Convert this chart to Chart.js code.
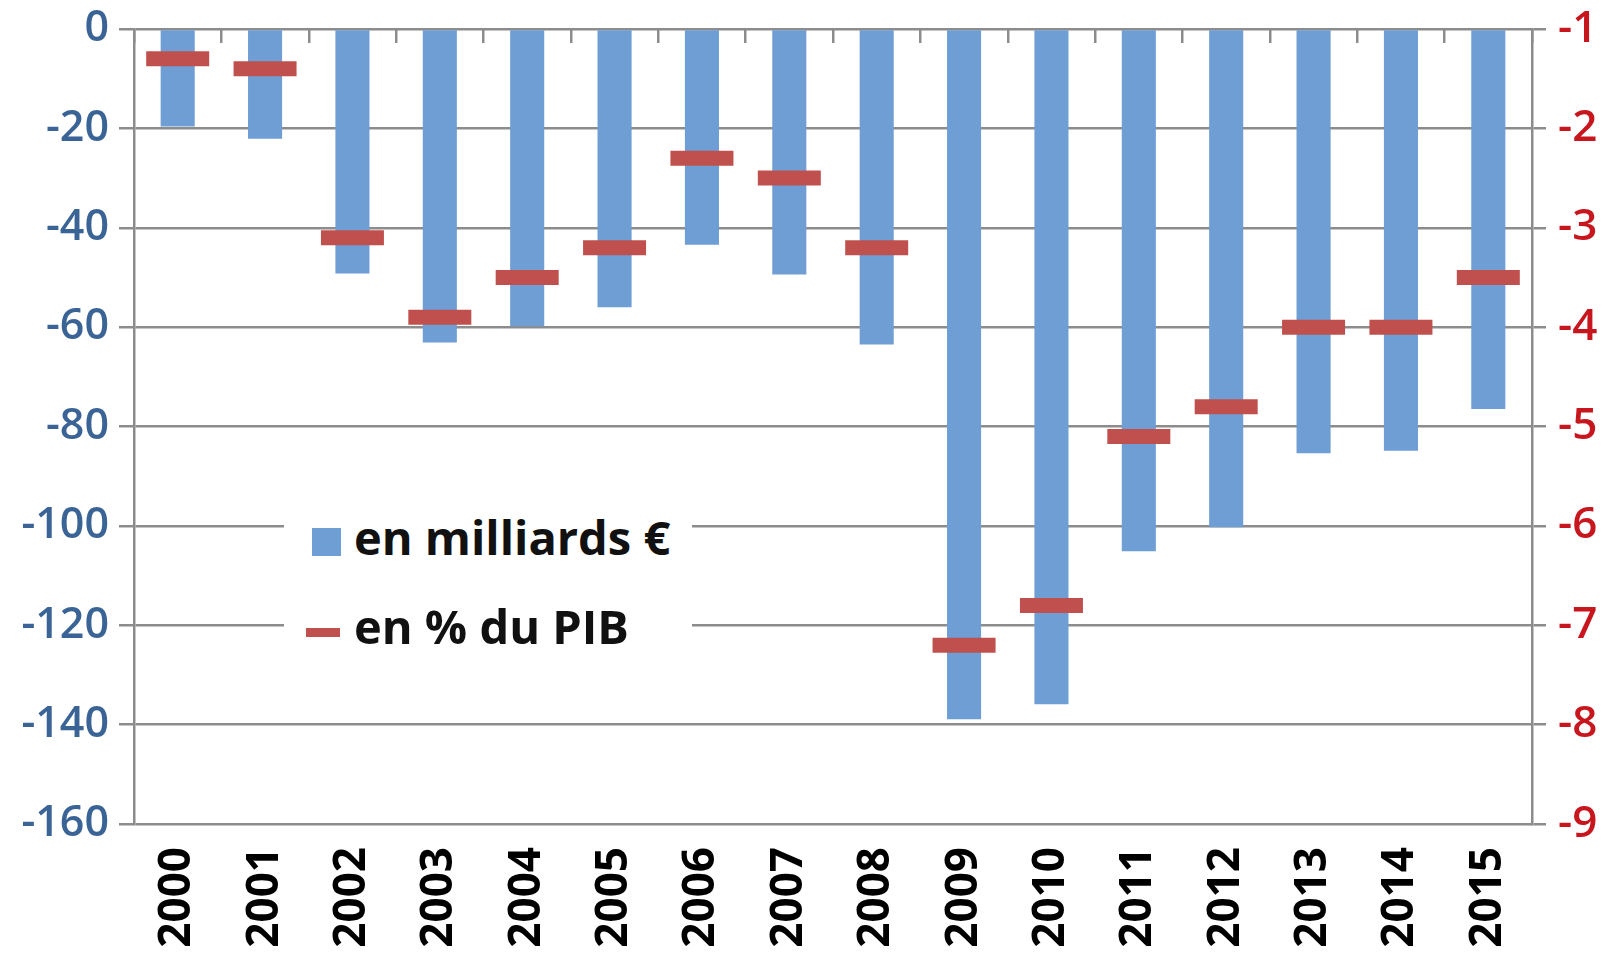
<!DOCTYPE html>
<html>
<head>
<meta charset="utf-8">
<script src="https://cdn.jsdelivr.net/npm/chart.js@4/dist/chart.umd.min.js"></script>
<style>
  html, body { margin: 0; padding: 0; background: #fff; }
  .wrap { position: relative; width: 1609px; height: 959px; }
  #legend {
    position: absolute; left: 284px; top: 484px; width: 408px; height: 172px;
    background: #fff; font-family: 'Open Sans', sans-serif; font-weight: 700;
    font-size: 47px; color: #111;
  }
  #legend .item { position: absolute; left: 0; height: 46px; line-height: 46px; white-space: nowrap; }
  #legend .txt { position: absolute; left: 70px; top: 0; }
  #legend .sw { position: absolute; }
</style>
</head>
<body>
<div class="wrap">
  <canvas id="deficit" width="1609" height="959"></canvas>
  <div id="legend"></div>
</div>
<script>
// years on the category axis
const years = ['2000', '2001', '2002', '2003', '2004', '2005', '2006', '2007',
  '2008', '2009', '2010', '2011', '2012', '2013', '2014', '2015'];

// deficit in billions of euros (left axis)
const deficitBillions = [-19.6, -22.1, -49.2, -63.1, -59.8, -56.0, -43.4, -49.4,
  -63.5, -138.9, -135.9, -105.1, -100.3, -85.4, -84.9, -76.5];

// deficit in % of GDP (right axis)
const deficitPct = [-1.3, -1.4, -3.1, -3.9, -3.5, -3.2, -2.3, -2.5,
  -3.2, -7.2, -6.8, -5.1, -4.8, -4.0, -4.0, -3.5];

const seriesLabels = ['en milliards €', 'en % du PIB'];

const gridGray = '#8c8c8c';
const barBlue = '#6e9ed4';
const markRed = '#c0504d';

const ctx = document.getElementById('deficit').getContext('2d');

// fixed axis box sizes, and no extra label padding above / below the plot
const fixV = (w) => (s) => { s.width = w; s.paddingTop = 0; s.paddingBottom = 0; };

const chart = new Chart(ctx, {
  data: {
    labels: years,
    datasets: [
      {
        type: 'line',
        label: seriesLabels[1],
        data: deficitPct,
        yAxisID: 'y1',
        showLine: false,
        pointStyle: 'line',
        pointRadius: 31.5,
        pointHoverRadius: 31.5,
        pointBorderWidth: 15,
        pointHoverBorderWidth: 15,
        pointBorderColor: markRed,
        pointBackgroundColor: markRed,
        borderColor: markRed,
        order: 0,
      },
      {
        type: 'bar',
        label: seriesLabels[0],
        data: deficitBillions,
        yAxisID: 'y',
        backgroundColor: barBlue,
        categoryPercentage: 1,
        barPercentage: 0.39,
        order: 1,
      },
    ],
  },
  options: {
    responsive: false,
    animation: false,
    devicePixelRatio: 1,
    layout: { autoPadding: false, padding: { top: 29, left: 0, right: 0, bottom: 0 } },
    plugins: {
      legend: { display: false },
      tooltip: { enabled: false },
    },
    scales: {
      x: {
        type: 'category',
        position: 'bottom',
        offset: true,
        grid: { display: false, drawTicks: false },
        border: { display: false },
        ticks: {
          minRotation: 90,
          maxRotation: 90,
          padding: 23,
          color: '#000',
          font: { family: 'Open Sans', size: 44, weight: '700' },
        },
        afterFit: (s) => { s.height = 135; s.paddingLeft = 0; s.paddingRight = 0; },
      },
      xTop: {
        type: 'category',
        position: 'top',
        offset: true,
        grid: {
          offset: true,
          drawOnChartArea: false,
          tickLength: -14,
          color: gridGray,
          lineWidth: 2.5,
        },
        border: { display: false },
        ticks: { display: false },
        afterFit: (s) => { s.height = 0; s.paddingLeft = 0; s.paddingRight = 0; },
      },
      y: {
        position: 'left',
        min: -160,
        max: 0,
        ticks: {
          stepSize: 20,
          padding: 10,
          color: '#3b6496',
          font: { family: 'Open Sans', size: 43, weight: '600' },
        },
        grid: { color: gridGray, lineWidth: 2.5, tickLength: 15 },
        border: { color: gridGray, width: 2.5 },
        afterFit: fixV(134),
      },
      y1: {
        position: 'right',
        min: -9,
        max: -1,
        ticks: {
          stepSize: 1,
          padding: 12,
          color: '#c8161e',
          font: { family: 'Open Sans', size: 44, weight: '600' },
        },
        grid: { drawOnChartArea: false, color: gridGray, lineWidth: 2.5, tickLength: 14 },
        border: { color: gridGray, width: 2.5 },
        afterFit: fixV(77),
      },
    },
  },
});

// legend box sitting inside the plot area
const legend = document.getElementById('legend');
const barDs = chart.data.datasets[1];
const lineDs = chart.data.datasets[0];
legend.innerHTML =
  '<div class="item" style="top:30px">' +
    '<span class="sw" style="left:28px;top:14px;width:29px;height:28px;background:' + barDs.backgroundColor + '"></span>' +
    '<span class="txt">' + barDs.label + '</span></div>' +
  '<div class="item" style="top:119px">' +
    '<span class="sw" style="left:22px;top:25px;width:34px;height:9px;background:' + lineDs.pointBorderColor + '"></span>' +
    '<span class="txt">' + lineDs.label + '</span></div>';
</script>
</body>
</html>
